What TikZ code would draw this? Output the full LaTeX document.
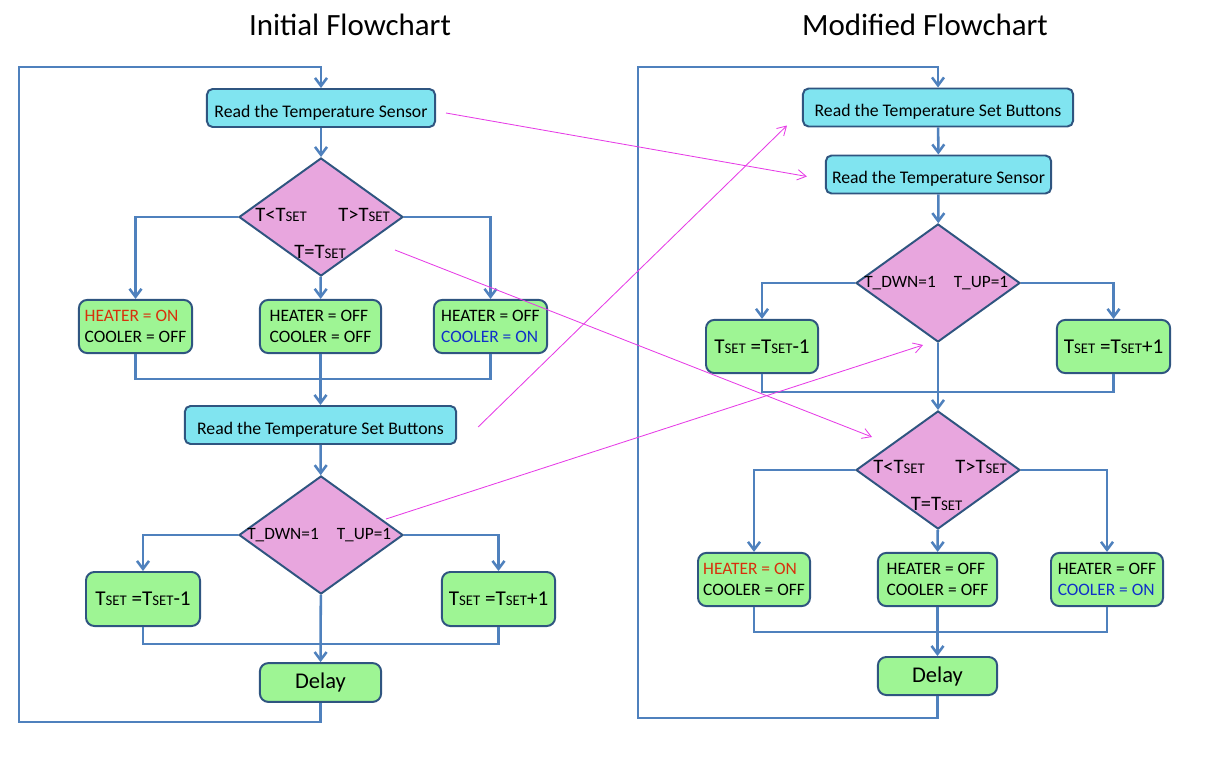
\documentclass[tikz,border=0pt]{standalone}
\usepackage{fontspec}
\setmainfont{Carlito}
\usepackage{tikz}
\usetikzlibrary{arrows.meta,positioning,shapes.geometric,calc}
\definecolor{readcyan}{HTML}{80E4F0}
\definecolor{actgreen}{HTML}{9EF594}
\definecolor{decpink}{HTML}{E8A6DE}
\definecolor{edgeblue}{HTML}{4F81BD}
\definecolor{borderblue}{HTML}{2F5580}
\definecolor{linkmag}{HTML}{E63CE6}
\definecolor{onred}{HTML}{D8300C}
\definecolor{onblue}{HTML}{1030C8}
\newcommand{\Tset}{T{\fontsize{10.5}{12}\selectfont SET}}

\begin{document}
\begin{tikzpicture}[x=0.025cm, y=-0.025cm,
    readbox/.style={rectangle, draw=borderblue, line width=1.4pt, rounded corners=4pt,
                 fill=readcyan, minimum height=0.95cm, inner sep=0pt,
                 text height=13pt, text depth=0pt,
                 font=\fontsize{12.6}{14}\selectfont},
    actbox/.style={rectangle, draw=borderblue, line width=1.4pt, rounded corners=6pt,
                 fill=actgreen, minimum height=1.33cm, inner sep=0pt, align=left,
                 font=\fontsize{12.4}{15}\selectfont},
    decision/.style={diamond, draw=borderblue, line width=1.4pt, fill=decpink,
                 minimum width=4.1cm, minimum height=2.95cm, inner sep=0pt},
    declbl/.style={inner sep=0pt, font=\fontsize{14.6}{16}\selectfont},
    btnlbl/.style={inner sep=0pt, font=\fontsize{12.3}{14}\selectfont},
    heading/.style={font=\fontsize{22}{26}\selectfont},
    arr/.style={-{Straight Barb[length=2mm,width=3mm]}, draw=edgeblue, line width=1.8pt},
    wire/.style={draw=edgeblue, line width=1.8pt},
    link/.style={-{Straight Barb[length=2.2mm,width=2.6mm]}, draw=linkmag, line width=0.6pt},
]
    \useasboundingbox (0,0) rectangle (1207,756);

    % initial flowchart
    \node[heading] (t1) at (350,25) {Initial Flowchart};
    \node[readbox, minimum width=5.7cm] (rs1) at (321,108) {Read the Temperature Sensor};
    \node[decision] (d1) at (321,217) {};
    \node[declbl] at ($(d1)+(-40,-2)$) {T<\Tset};
    \node[declbl] at ($(d1)+(43,-2)$) {T>\Tset};
    \node[declbl] at ($(d1)+(-1,35)$) {T=\Tset};
    \node[actbox, minimum width=2.83cm] (h1) at (135.5,326.5) {\textcolor{onred}{HEATER = ON}\\COOLER = OFF};
    \node[actbox, minimum width=3.03cm] (h2) at (320.5,326.5) {HEATER = OFF\\COOLER = OFF};
    \node[actbox, minimum width=2.83cm] (h3) at (490.5,326.5) {HEATER = OFF\\\textcolor{onblue}{COOLER = ON}};
    \node[readbox, minimum width=6.78cm] (rb1) at (320.5,425) {Read the Temperature Set Buttons};
    \node[decision] (d2) at (321,535) {};
    \node[btnlbl] at ($(d2)+(-38,0)$) {T\_DWN=1};
    \node[btnlbl] at ($(d2)+(43,0)$) {T\_UP=1};
    \node[actbox, minimum width=2.85cm, minimum height=1.35cm, font=\fontsize{15}{17}\selectfont] (s1) at (143,599) {\Tset\ =\Tset-1};
    \node[actbox, minimum width=2.83cm, minimum height=1.35cm, font=\fontsize{15}{17}\selectfont] (s2) at (498.5,599) {\Tset\ =\Tset+1};
    \node[actbox, minimum width=3.03cm, minimum height=0.97cm, align=center, font=\fontsize{16}{19}\selectfont] (dl1) at (320.5,682.5) {Delay};

    \coordinate (m1) at (321,379);
    \coordinate (m2) at (321,644);
    \coordinate (loopB1) at (19,722);
    \coordinate (loopT1) at (19,67);

    \draw[arr] (rs1) -- (d1);
    \draw[arr] (d1.west) -| (h1.north);
    \draw[arr] (d1.east) -| (h3.north);
    \draw[arr] (d1) -- (h2);
    \draw[wire] (h1.south) |- (m1) -| (h3.south);
    \draw[arr] (h2) -- (rb1);
    \draw[arr] (rb1) -- (d2);
    \draw[arr] (d2.west) -| (s1.north);
    \draw[arr] (d2.east) -| (s2.north);
    \draw[wire] (s1.south) |- (m2) -| (s2.south);
    \draw[arr] (d2) -- (dl1);
    \draw[arr] (dl1.south) |- (loopB1) -- (loopT1) -| (rs1.north);

    % modified flowchart
    \node[heading] (t2) at (925,25) {Modified Flowchart};
    \node[readbox, minimum width=6.75cm] (rb2) at (938,107.5) {Read the Temperature Set Buttons};
    \node[readbox, minimum width=5.63cm] (rs2) at (938.5,174.5) {Read the Temperature Sensor};
    \node[decision] (d3) at (938,283) {};
    \node[btnlbl] at ($(d3)+(-38,0)$) {T\_DWN=1};
    \node[btnlbl] at ($(d3)+(43,0)$) {T\_UP=1};
    \node[actbox, minimum width=2.8cm, font=\fontsize{15}{17}\selectfont] (s3) at (762,346.5) {\Tset\ =\Tset-1};
    \node[actbox, minimum width=2.83cm, font=\fontsize{15}{17}\selectfont] (s4) at (1113.5,346.5) {\Tset\ =\Tset+1};
    \node[decision] (d4) at (938,470) {};
    \node[declbl] at ($(d4)+(-39,-3)$) {T<\Tset};
    \node[declbl] at ($(d4)+(43,-3)$) {T>\Tset};
    \node[declbl] at ($(d4)+(-1.5,34)$) {T=\Tset};
    \node[actbox, minimum width=2.8cm] (h4) at (754,579.5) {\textcolor{onred}{HEATER = ON}\\COOLER = OFF};
    \node[actbox, minimum width=2.98cm] (h5) at (937.5,579.5) {HEATER = OFF\\COOLER = OFF};
    \node[actbox, minimum width=2.8cm] (h6) at (1107,579.5) {HEATER = OFF\\\textcolor{onblue}{COOLER = ON}};
    \node[actbox, minimum width=2.98cm, minimum height=0.95cm, align=center, font=\fontsize{16}{19}\selectfont] (dl2) at (937.5,676) {Delay};

    \coordinate (m3) at (938,392);
    \coordinate (m4) at (938,632);
    \coordinate (loopB2) at (638,718);
    \coordinate (loopT2) at (638,67);

    \draw[arr] (rb2) -- (rs2);
    \draw[arr] (rs2) -- (d3);
    \draw[arr] (d3.west) -| (s3.north);
    \draw[arr] (d3.east) -| (s4.north);
    \draw[wire] (s3.south) |- (m3) -| (s4.south);
    \draw[arr] (d3) -- (d4);
    \draw[arr] (d4.west) -| (h4.north);
    \draw[arr] (d4.east) -| (h6.north);
    \draw[arr] (d4) -- (h5);
    \draw[wire] (h4.south) |- (m4) -| (h6.south);
    \draw[arr] (h5) -- (dl2);
    \draw[arr] (dl2.south) |- (loopB2) -- (loopT2) -| (rb2.north);

    % where the steps moved
    \draw[link] ($(rs1.east)+(10,5)$) -- ($(rs2.west)+(-18,2)$);
    \draw[link] ($(d1)+(74,33)$) -- ($(d4)+(-66,-33)$);
    \draw[link] ($(rb1.east)+(21,2)$) -- ($(rb2.west)+(-15,18)$);
    \draw[link] ($(d2)+(65,-16)$) -- ($(d3.south)+(-15,2)$);
\end{tikzpicture}
\end{document}
